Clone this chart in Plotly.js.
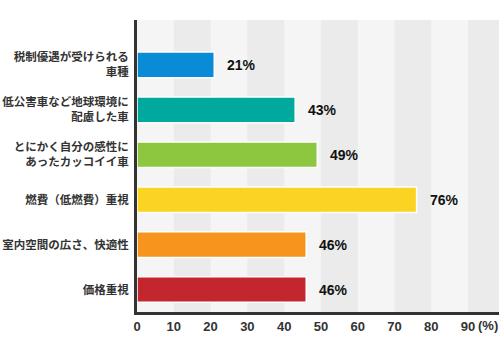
<!DOCTYPE html>
<html>
<head>
<meta charset="utf-8">
<script src="https://cdn.plot.ly/plotly-3.0.1.min.js"></script>
<style>html,body{margin:0;padding:0;background:#fff;}#chart{width:504px;height:360px;}</style>
</head>
<body>
<div id="chart"></div>
<script>
const categories = [
  "税制優遇が受けられる<br>車種",
  "低公害車など地球環境に<br>配慮した車",
  "とにかく自分の感性に<br>あったカッコイイ車",
  "燃費（低燃費）重視",
  "室内空間の広さ、快適性",
  "価格重視"
];
const values = [21, 43, 49, 76, 46, 46];
const valueLabels = ["21%", "43%", "49%", "76%", "46%", "46%"];
const barColors = ["#0a8bd6", "#00a99d", "#8dc63f", "#fbd322", "#f7941d", "#c4262e"];
const xTicks = [0, 10, 20, 30, 40, 50, 60, 70, 80, 90];
const xMax = 98.4;

const bands = [];
for (let s = 10; s < 100; s += 20) {
  bands.push({type:'rect', xref:'x', yref:'paper', x0:s, x1:Math.min(s+10, xMax), y0:0, y1:1,
    fillcolor:'#ebebeb', line:{width:0}, layer:'below'});
}

const annotations = values.map((v, i) => ({
  x: v, y: i, xref:'x', yref:'y', text: valueLabels[i], showarrow:false,
  xanchor:'left', yanchor:'middle', xshift: 11,
  font:{family:'Liberation Sans, Arial, sans-serif', size:14, color:'#111', weight:'bold'}
}));
annotations.push({
  x: 95.4, y: 0, xref:'x', yref:'paper', text:'(%)', showarrow:false,
  xanchor:'center', yanchor:'middle', yshift:-13,
  font:{family:'Liberation Sans, Arial, sans-serif', size:13, color:'#333', weight:'bold'}
});

const trace = {
  type:'bar', orientation:'h',
  x: values, y: [0,1,2,3,4,5],
  marker:{color: barColors, line:{color:'#ffffff', width:1.5}},
  hoverinfo:'none'
};

const layout = {
  width:504, height:360,
  margin:{l:137, r:5, t:20, b:48},
  paper_bgcolor:'#ffffff', plot_bgcolor:'#f5f5f5',
  bargap:0.43,
  showlegend:false,
  shapes: bands,
  annotations: annotations,
  xaxis:{
    range:[0, xMax], tickvals:xTicks, ticktext:xTicks.map(String),
    showgrid:false, zeroline:false, showline:true, linecolor:'#333', linewidth:3,
    ticks:'', ticklabelstandoff:0,
    tickfont:{family:'Liberation Sans, Arial, sans-serif', size:13, color:'#333', weight:'bold'}
  },
  yaxis:{
    range:[5.5, -1], tickvals:[0,1,2,3,4,5], ticktext:categories,
    showgrid:false, zeroline:false, showline:true, linecolor:'#333', linewidth:3,
    ticks:'', ticklabelstandoff:3,
    tickfont:{family:'Noto Sans CJK JP, sans-serif', size:11.5, color:'#333', weight:'bold'}
  }
};

Plotly.newPlot('chart', [trace], layout, {displayModeBar:false, staticPlot:true});
</script>
</body>
</html>
